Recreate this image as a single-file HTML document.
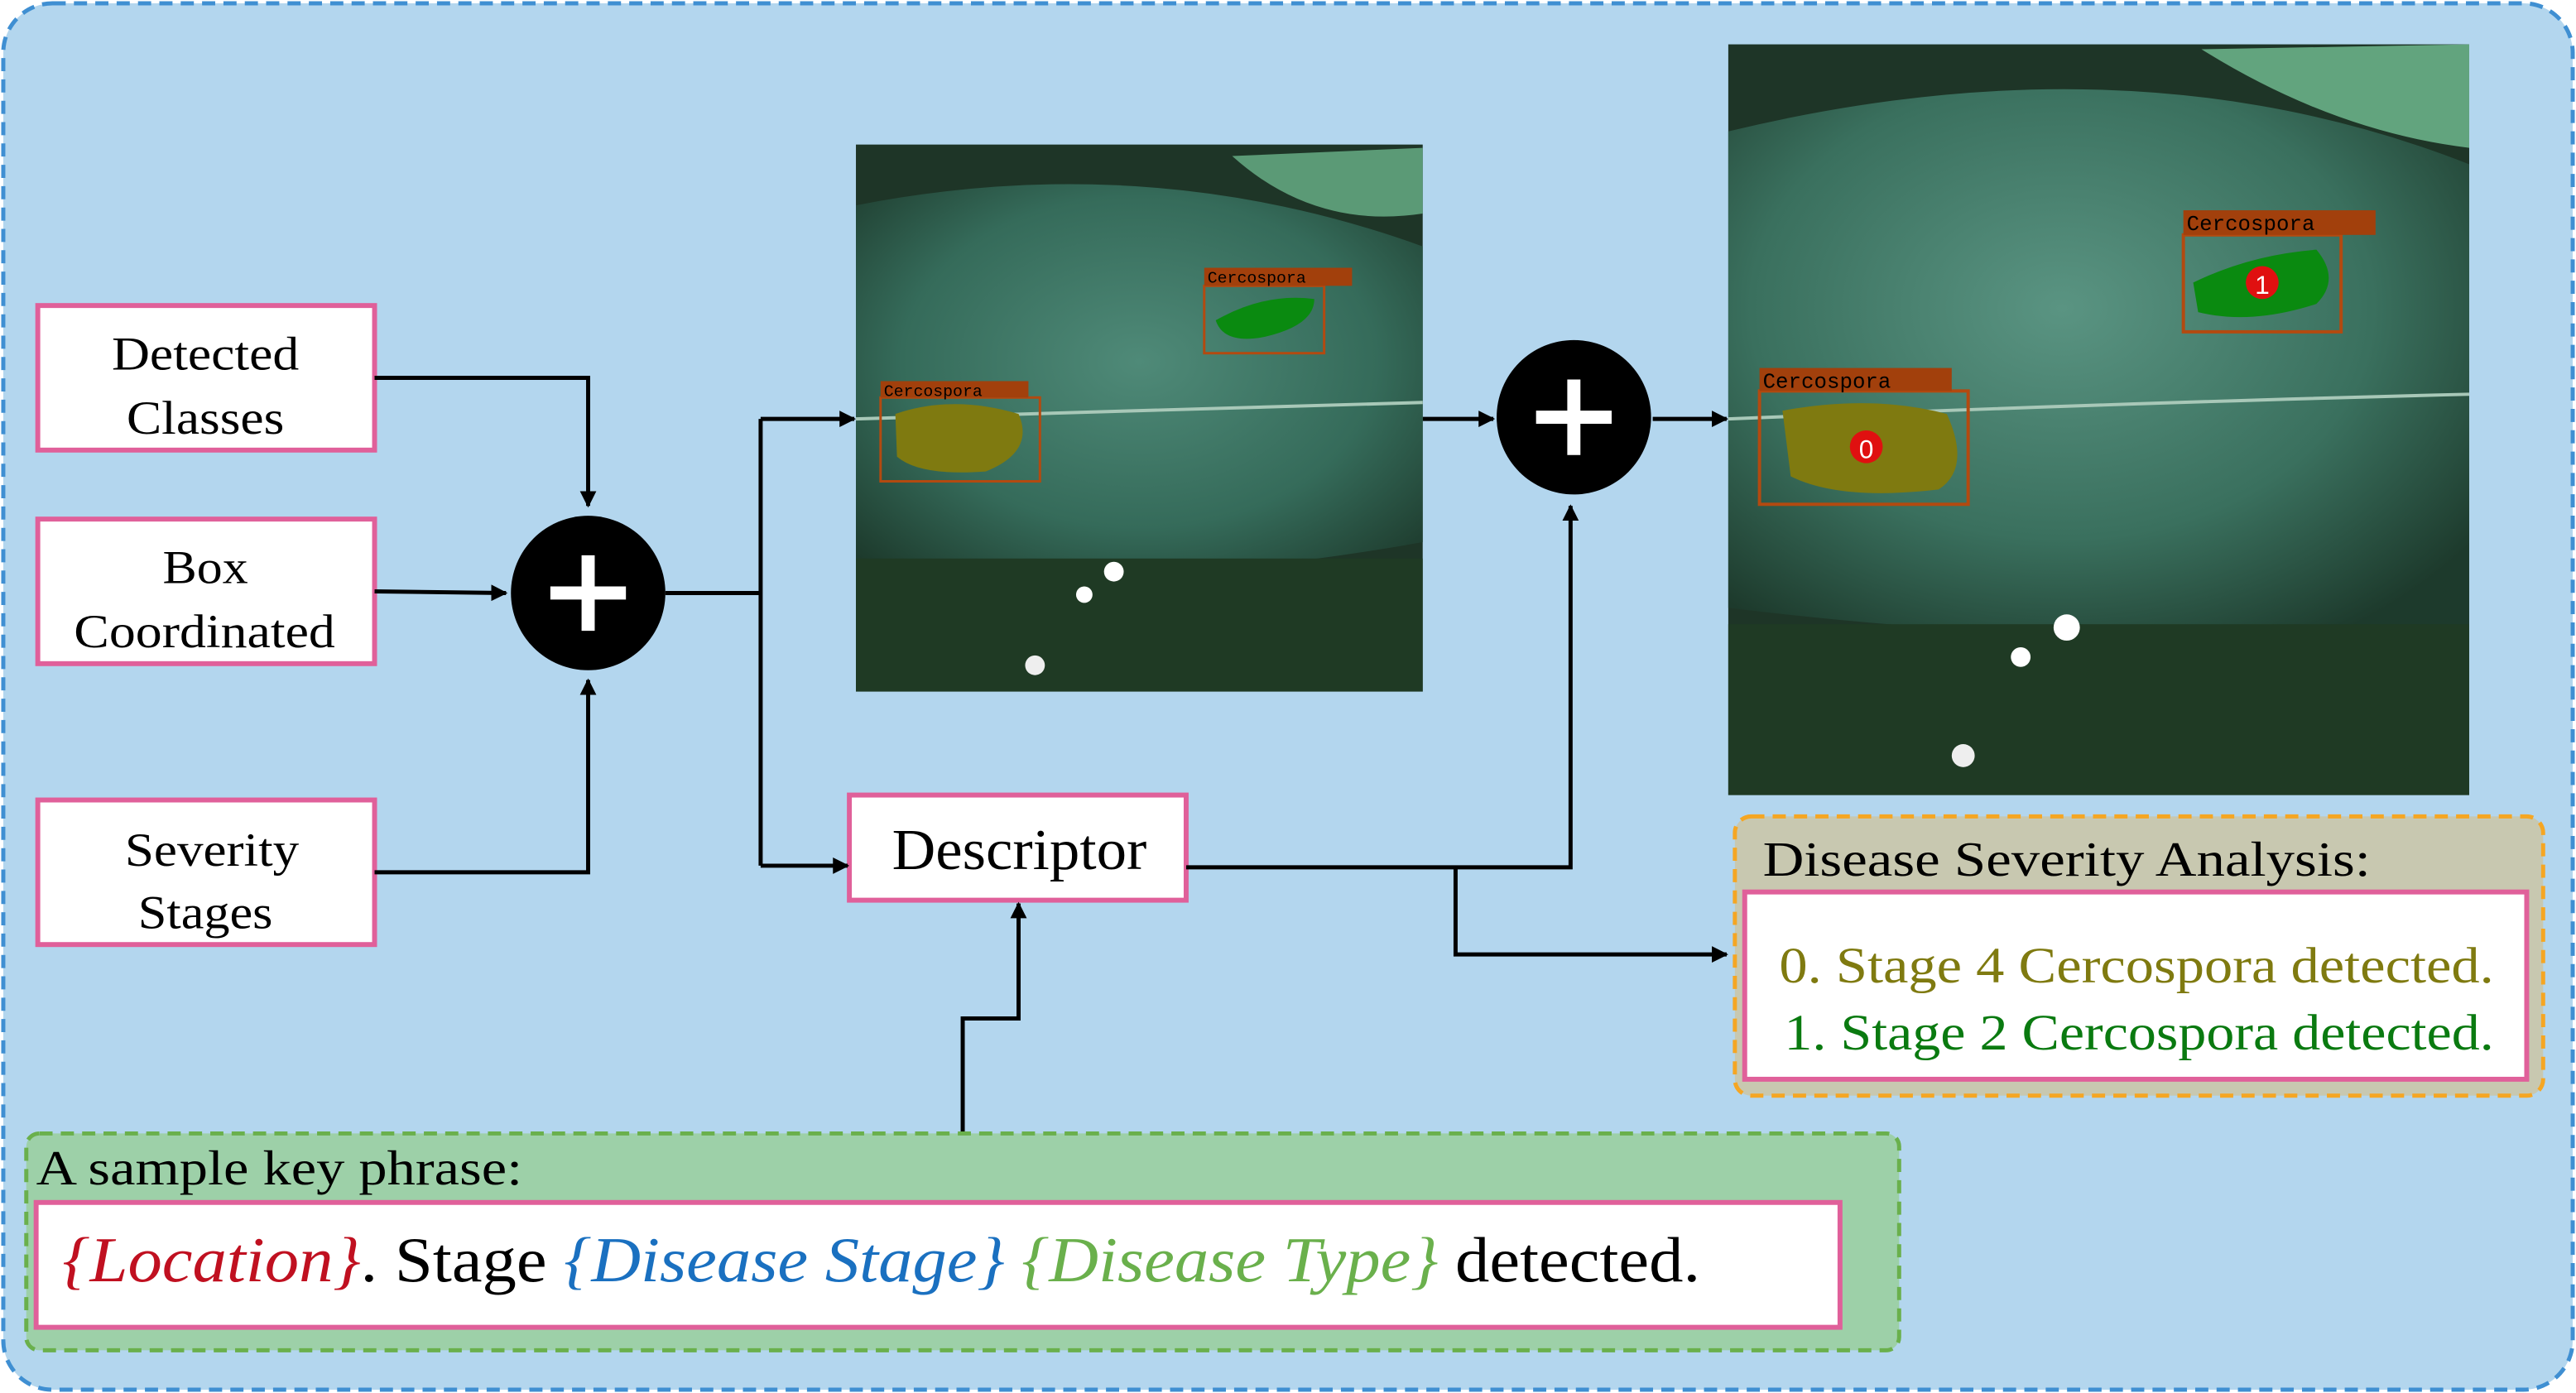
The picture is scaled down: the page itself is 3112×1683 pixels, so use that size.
<!DOCTYPE html>
<html><head><meta charset="utf-8"><style>
html,body{margin:0;padding:0;background:#fff;}
#w{width:3112px;height:1683px;overflow:hidden;position:relative;}
svg{display:block}
</style></head><body><div id="w">
<svg width="3112" height="1683" viewBox="0 0 1568 848" preserveAspectRatio="none" font-family="'Liberation Serif', serif">
<defs>
<marker id="a" markerWidth="10" markerHeight="10" refX="9" refY="5" orient="auto" markerUnits="userSpaceOnUse"><path d="M0,0 L10,5 L0,10 z" fill="#000"/></marker>
<radialGradient id="lf1" cx="0.5" cy="0.45" r="0.7"><stop offset="0" stop-color="#4f8a78"/><stop offset="0.6" stop-color="#356b5a"/><stop offset="1" stop-color="#1d3a2c"/></radialGradient>
<radialGradient id="lf2" cx="0.45" cy="0.4" r="0.7"><stop offset="0" stop-color="#5a9482"/><stop offset="0.6" stop-color="#3a705e"/><stop offset="1" stop-color="#1d3a2c"/></radialGradient>
</defs>
<rect x="2" y="2" width="1564" height="844" rx="30" fill="#b3d6ee" stroke="#3f8fd2" stroke-width="2.5" stroke-dasharray="8,5"/>
<g fill="#fff" stroke="#e0609a" stroke-width="3">
<rect x="23" y="186" width="205" height="88"/>
<rect x="23" y="316" width="205" height="88"/>
<rect x="23" y="487" width="205" height="88"/>
<rect x="517" y="484" width="205" height="64"/>
</g>
<g font-size="29" fill="#000" lengthAdjust="spacingAndGlyphs">
<text x="68" y="225" textLength="114" lengthAdjust="spacingAndGlyphs">Detected</text>
<text x="77" y="264" textLength="96" lengthAdjust="spacingAndGlyphs">Classes</text>
<text x="99" y="355" textLength="52" lengthAdjust="spacingAndGlyphs">Box</text>
<text x="45" y="394" textLength="159" lengthAdjust="spacingAndGlyphs">Coordinated</text>
<text x="76" y="527" textLength="106" lengthAdjust="spacingAndGlyphs">Severity</text>
<text x="84" y="565" textLength="82" lengthAdjust="spacingAndGlyphs">Stages</text>
<text x="543" y="529" font-size="35" textLength="155" lengthAdjust="spacingAndGlyphs">Descriptor</text>
</g>
<circle cx="358" cy="361" r="47" fill="#000"/>
<path d="M358,338 V384 M335,361 H381" stroke="#fff" stroke-width="8"/>
<circle cx="958" cy="254" r="47" fill="#000"/>
<path d="M958,231 V277 M935,254 H981" stroke="#fff" stroke-width="8"/>
<g stroke="#000" stroke-width="2.5" fill="none">
<path d="M228,230 H358 V308" marker-end="url(#a)"/>
<path d="M228,360 L308,361" marker-end="url(#a)"/>
<path d="M228,531 H358 V414" marker-end="url(#a)"/>
<path d="M405,361 H463"/>
<path d="M463,255 V527"/>
<path d="M463,255 H520" marker-end="url(#a)"/>
<path d="M463,527 H516" marker-end="url(#a)"/>
<path d="M866,255 H909" marker-end="url(#a)"/>
<path d="M1006,255 H1051" marker-end="url(#a)"/>
<path d="M722,528 H956 V308" marker-end="url(#a)"/>
<path d="M886,528 V581 H1051" marker-end="url(#a)"/>
<path d="M586,690 V620 H620 V550" marker-end="url(#a)"/>
</g>
<!-- image 1 -->
<rect x="521" y="88" width="345" height="333" fill="#1e3527"/>
<path d="M521,125 Q700,90 866,150 L866,330 Q700,360 521,350 Z" fill="url(#lf1)"/>
<path d="M750,95 L866,90 L866,130 Q800,140 750,95Z" fill="#5b9a76"/>
<path d="M521,255 Q700,250 866,245" stroke="#a8c8b8" stroke-width="2" fill="none"/>
<rect x="521" y="340" width="345" height="81" fill="#1f3a24"/>
<circle cx="678" cy="348" r="6" fill="#fff"/><circle cx="660" cy="362" r="5" fill="#fff"/><circle cx="630" cy="405" r="6" fill="#eee"/>
<path d="M545,252 Q580,240 620,252 Q630,275 600,287 Q560,290 546,278 Z" fill="#7f7a10"/>
<rect x="536" y="242" width="97" height="51" fill="none" stroke="#b34a10" stroke-width="1.5"/>
<rect x="536" y="232" width="90" height="10" fill="#a2400c"/>
<text x="538" y="241" font-family="Liberation Mono,monospace" font-size="10" fill="#000">Cercospora</text>
<path d="M740,195 Q770,178 800,182 Q800,198 770,205 Q745,210 740,195Z" fill="#0a8a10"/>
<rect x="733" y="174" width="73" height="41" fill="none" stroke="#b34a10" stroke-width="1.5"/>
<rect x="733" y="163" width="90" height="11" fill="#a2400c"/>
<text x="735" y="172" font-family="Liberation Mono,monospace" font-size="10" fill="#000">Cercospora</text>
<!-- image 2 -->
<rect x="1052" y="27" width="451" height="457" fill="#1e3527"/>
<path d="M1052,80 Q1300,20 1503,100 L1503,380 Q1300,400 1052,370 Z" fill="url(#lf2)"/>
<path d="M1340,30 L1503,27 L1503,90 Q1420,80 1340,30Z" fill="#62a47e"/>
<path d="M1052,255 Q1300,245 1503,240" stroke="#a8c8b8" stroke-width="2" fill="none"/>
<rect x="1052" y="380" width="451" height="104" fill="#1f3a24"/>
<circle cx="1258" cy="382" r="8" fill="#fff"/><circle cx="1230" cy="400" r="6" fill="#fff"/><circle cx="1195" cy="460" r="7" fill="#eee"/>
<path d="M1085,250 Q1140,240 1185,252 Q1200,285 1180,298 Q1120,305 1090,290 Z" fill="#7f7a10"/>
<rect x="1071" y="238" width="127" height="69" fill="none" stroke="#b34a10" stroke-width="2"/>
<rect x="1071" y="224" width="117" height="14" fill="#a2400c"/>
<text x="1073" y="236" font-family="Liberation Mono,monospace" font-size="13" fill="#000">Cercospora</text>
<circle cx="1136" cy="272" r="10" fill="#e01010"/><text x="1136" y="279" font-size="16" fill="#fff" text-anchor="middle" font-family="Liberation Sans,sans-serif">0</text>
<path d="M1335,172 Q1370,155 1410,152 Q1425,170 1410,185 Q1370,198 1338,190Z" fill="#0a8a10"/>
<rect x="1329" y="143" width="96" height="59" fill="none" stroke="#b34a10" stroke-width="2"/>
<rect x="1329" y="128" width="117" height="15" fill="#a2400c"/>
<text x="1331" y="140" font-family="Liberation Mono,monospace" font-size="13" fill="#000">Cercospora</text>
<circle cx="1377" cy="172" r="10" fill="#e01010"/><text x="1377" y="179" font-size="16" fill="#fff" text-anchor="middle" font-family="Liberation Sans,sans-serif">1</text>
<!-- severity analysis -->
<rect x="1056" y="497" width="492" height="170" rx="10" fill="#c8c8b0" stroke="#f5a623" stroke-width="2.5" stroke-dasharray="8,5"/>
<text x="1073" y="533" font-size="30" textLength="370" lengthAdjust="spacingAndGlyphs">Disease Severity Analysis:</text>
<rect x="1062" y="543" width="476" height="114" fill="#fff" stroke="#e0609a" stroke-width="3"/>
<text x="1083" y="598" font-size="31" fill="#7f7a10" textLength="435" lengthAdjust="spacingAndGlyphs">0. Stage 4 Cercospora detected.</text>
<text x="1086" y="639" font-size="31" fill="#0a7a10" textLength="432" lengthAdjust="spacingAndGlyphs">1. Stage 2 Cercospora detected.</text>
<!-- key phrase -->
<rect x="16" y="690" width="1140" height="132" rx="8" fill="#9dd0a8" stroke="#6ab04c" stroke-width="2.5" stroke-dasharray="8,5"/>
<text x="22" y="721" font-size="30" textLength="296" lengthAdjust="spacingAndGlyphs">A sample key phrase:</text>
<rect x="22" y="732" width="1098" height="76" fill="#fff" stroke="#e0609a" stroke-width="3"/>
<text x="38" y="780" font-size="39" textLength="997" lengthAdjust="spacingAndGlyphs"><tspan fill="#c01020" font-style="italic">{Location}</tspan><tspan fill="#000">. Stage </tspan><tspan fill="#1a70c0" font-style="italic">{Disease Stage}</tspan><tspan> </tspan><tspan fill="#6ab04c" font-style="italic">{Disease Type}</tspan><tspan fill="#000"> detected.</tspan></text>
</svg>
</div></body></html>
